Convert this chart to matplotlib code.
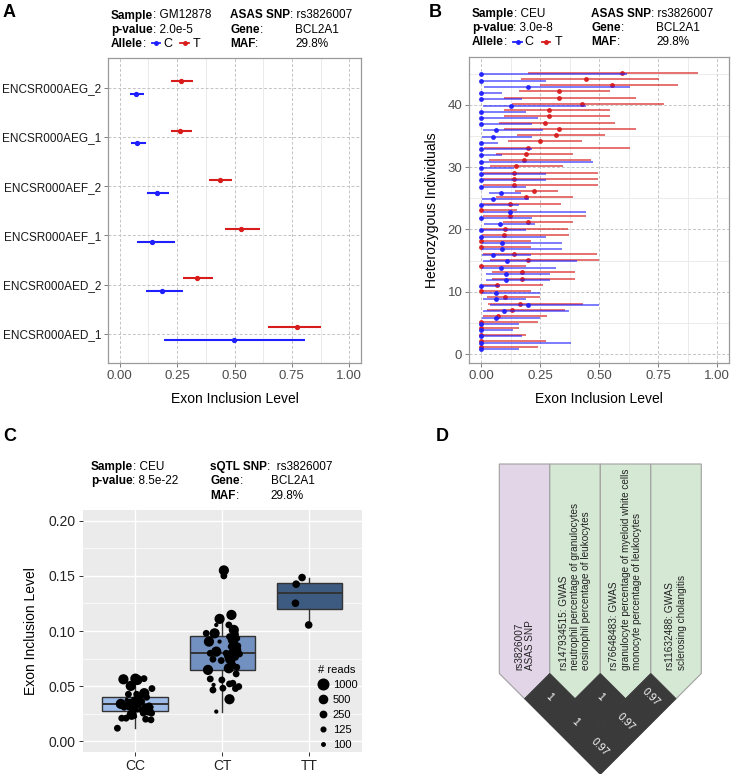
import matplotlib
matplotlib.use('Agg')
import matplotlib.pyplot as plt
import numpy as np
from matplotlib.lines import Line2D
from matplotlib.patches import Polygon
from matplotlib.ticker import MultipleLocator, FixedLocator

plt.rcParams['font.family'] = ['Liberation Sans', 'DejaVu Sans']

# ---------------- data ----------------
# Panel A
a_samples = ['ENCSR000AED_1', 'ENCSR000AED_2', 'ENCSR000AEF_1',
             'ENCSR000AEF_2', 'ENCSR000AEG_1', 'ENCSR000AEG_2']
a_c_mid = [0.499, 0.186, 0.142, 0.163, 0.076, 0.070]
a_c_lo = [0.191, 0.116, 0.073, 0.119, 0.051, 0.043]
a_c_hi = [0.807, 0.276, 0.241, 0.216, 0.116, 0.107]
a_t_mid = [0.774, 0.338, 0.530, 0.436, 0.264, 0.265]
a_t_lo = [0.648, 0.274, 0.457, 0.387, 0.223, 0.225]
a_t_hi = [0.876, 0.406, 0.609, 0.490, 0.316, 0.319]

# Panel B (individuals 1..45)
b_t_lo = [0, 0, 0, 0, 0, 0.007, 0.024, 0.031, 0.027, 0, 0.007, 0.048, 0.048, 0, 0.038,
          0.007, 0, 0, 0.003, 0.007, 0.091, 0.01, 0, 0.01, 0.063, 0.143, 0.01, 0.01, 0.01, 0.038,
          0.035, 0.063, 0.014, 0.115, 0.151, 0.097, 0.077, 0.099, 0.099, 0.129, 0.097, 0.16, 0.248, 0.167, 0.199]
b_t_hi = [0.241, 0.276, 0.192, 0.161, 0.241, 0.279, 0.357, 0.433, 0.248, 0.213, 0.262, 0.396, 0.396, 0.192, 0.5,
          0.493, 0.213, 0.213, 0.371, 0.37, 0.389, 0.445, 0.15, 0.339, 0.389, 0.325, 0.496, 0.496, 0.496, 0.346,
          0.465, 0.389, 0.63, 0.427, 0.525, 0.654, 0.566, 0.546, 0.546, 0.773, 0.654, 0.546, 0.836, 0.752, 0.92]
b_t_mid = [0, 0, 0, 0, 0, 0.07, 0.132, 0.164, 0.1, 0, 0.066, 0.175, 0.175, 0, 0.199,
           0.14, 0, 0, 0.098, 0.1, 0.199, 0.122, 0, 0.122, 0.189, 0.224, 0.14, 0.14, 0.14, 0.147,
           0.181, 0.189, 0.199, 0.249, 0.317, 0.332, 0.272, 0.286, 0.286, 0.426, 0.332, 0.332, 0.556, 0.444, 0.598]
b_c_lo = [0, 0, 0, 0, 0, 0.003, 0.007, 0.038, 0.01, 0.003, 0, 0.02, 0.02, 0.003, 0.007,
          0.003, 0.003, 0.003, 0, 0, 0.014, 0, 0.01, 0, 0.003, 0.035, 0, 0, 0, 0,
          0, 0, 0, 0, 0.003, 0.006, 0, 0, 0, 0.01, 0, 0, 0.014, 0, 0]
b_c_hi = [0.161, 0.381, 0.175, 0.136, 0.161, 0.248, 0.371, 0.5, 0.192, 0.248, 0.08, 0.29, 0.29, 0.318, 0.405,
          0.213, 0.343, 0.343, 0.273, 0.192, 0.227, 0.214, 0.444, 0.161, 0.203, 0.171, 0.192, 0.273, 0.273, 0.139,
          0.475, 0.088, 0.214, 0.071, 0.214, 0.263, 0.214, 0.239, 0.192, 0.445, 0.175, 0.088, 0.63, 0.273, 0.616]
b_c_mid = [0, 0, 0, 0, 0, 0.062, 0.098, 0.199, 0.063, 0.062, 0, 0.104, 0.104, 0.083, 0.11,
           0.052, 0.09, 0.09, 0, 0, 0.08, 0, 0.122, 0, 0.049, 0.083, 0, 0, 0, 0,
           0, 0, 0, 0, 0.052, 0.064, 0, 0, 0, 0.125, 0, 0, 0.199, 0, 0]

# Panel C
c_genotypes = ['CC', 'CT', 'TT']
c_q1 = [0.0275, 0.0644, 0.1200]
c_med = [0.0340, 0.0798, 0.1343]
c_q3 = [0.0405, 0.0958, 0.1439]
c_whislo = [0.0118, 0.0269, 0.1055]
c_whishi = [0.0575, 0.1146, 0.1485]
cc_jit = [-0.133, 0.004, 0.027, 0.103, -0.049, 0.194, -0.076, 0.019, 0.106, 0.133, 0.057, -0.008,
          -0.095, -0.163, -0.057, 0.027, 0.076, 0.163, -0.125, -0.019, 0.114, 0.190, 0.152, -0.038,
          0.027, 0.095, 0.190, -0.152, -0.103, -0.038, 0.122, 0.183, -0.202, -0.076, 0.076, 0.000]
cc_val = [0.0562, 0.0568, 0.0556, 0.0568, 0.0502, 0.0478, 0.0426, 0.0426, 0.0436, 0.0399, 0.0405, 0.0375,
          0.0375, 0.0339, 0.0339, 0.0345, 0.0360, 0.0321, 0.0309, 0.0309, 0.0309, 0.0309, 0.0279, 0.0261,
          0.0279, 0.0255, 0.0255, 0.0209, 0.0209, 0.0240, 0.0200, 0.0194, 0.0118, 0.0300, 0.0285, 0.0224]
cc_reads = [900, 900, 900, 300, 900, 300, 300, 300, 900, 300, 300, 300,
            110, 900, 900, 900, 300, 300, 300, 900, 300, 110, 900, 300,
            110, 300, 300, 300, 300, 900, 300, 300, 300, 110, 300, 110]
ct_jit = [-0.030, 0.106, 0.076, -0.068, -0.183, -0.087, 0.133, 0.152, 0.167, 0.084,
          0.141, -0.152, -0.068, 0.046, 0.122, 0.198, -0.137, -0.106, -0.011, 0.091,
          0.152, 0.122, 0.167, -0.163, 0.076, 0.160, -0.137, -0.004, 0.122, 0.084,
          -0.099, 0.190, 0.152, -0.106, 0.008, 0.084, -0.068, 0.103, 0.141, 0.179,
          -0.030, 0.110, 0.061, 0.160, 0.122, 0.019, 0.019]
ct_val = [0.1110, 0.1146, 0.1055, 0.1055, 0.0979, 0.0979, 0.1010, 0.0971, 0.0934, 0.0949,
          0.0895, 0.0904, 0.0813, 0.0798, 0.0798, 0.0792, 0.0798, 0.0744, 0.0732, 0.0744,
          0.0762, 0.0692, 0.0671, 0.0647, 0.0662, 0.0611, 0.0565, 0.0556, 0.0526, 0.0520,
          0.0511, 0.0496, 0.0478, 0.0465, 0.0481, 0.0381, 0.0269, 0.0859, 0.0835, 0.0865,
          0.0904, 0.0723, 0.0768, 0.0829, 0.0919, 0.1550, 0.1500]
ct_reads = [900, 900, 300, 110, 300, 900, 900, 300, 300, 300,
            300, 900, 900, 300, 900, 300, 300, 300, 300, 900,
            300, 300, 300, 900, 900, 300, 300, 300, 300, 300,
            110, 300, 300, 300, 300, 900, 110, 300, 300, 300,
            110, 300, 300, 900, 900, 900, 300]
tt_jit = [-0.084, -0.152, -0.160, -0.008]
tt_val = [0.1485, 0.1425, 0.1252, 0.1055]
tt_reads = [400, 400, 400, 400]
legend_reads = [1000, 500, 250, 125, 100]

# Panel D
d_labels = ['rs3826007\nASAS SNP',
            'rs147934515: GWAS\nneutrophil percentage of granulocytes\neosinophil percentage of leukocytes',
            'rs76648483: GWAS\ngranulocyte percentage of myeloid white cells\nmonocyte percentage of leukocytes',
            'rs11632488: GWAS\nsclerosing cholangitis']
d_kinds = ['asas', 'gwas', 'gwas', 'gwas']
d_ld_pairs = [(0, 1), (1, 2), (2, 3), (0, 2), (1, 3), (0, 3)]
d_ld_vals = ['1', '1', '0.97', '1', '0.97', '0.97']

# ---------------- figure ----------------
W, H, DPI = 731, 774, 100
fig = plt.figure(figsize=(W / DPI, H / DPI), dpi=DPI)


def fx(x):
    return x / W


def fy(y):
    return 1 - y / H


def add_ax(l, t, r, b):
    return fig.add_axes([fx(l), fy(b), (r - l) / W, (b - t) / H])


BLUE = '#1f1fff'
RED = '#d81c1c'
HDR = 8.5


def hdr(ax, x, y, bold, rest):
    t = fig.text(fx(x), fy(y), bold, fontsize=HDR, fontweight='bold', va='baseline', ha='left')
    ax.annotate(rest, xy=(1, fy(y)), xycoords=(t, 'figure fraction'), va='baseline',
                ha='left', fontsize=HDR, annotation_clip=False)


def plain(x, y, s, size=HDR):
    fig.text(fx(x), fy(y), s, fontsize=size, va='baseline', ha='left')


def key(x0, x1, y, color):
    fig.add_artist(Line2D([fx(x0), fx(x1)], [fy(y), fy(y)], transform=fig.transFigure,
                          color=color, lw=1.3))
    fig.add_artist(Line2D([fx((x0 + x1) / 2)], [fy(y)], transform=fig.transFigure,
                          color=color, marker='o', ms=2.5, lw=0))


def style_ab(ax):
    ax.set_facecolor('white')
    for s in ax.spines.values():
        s.set_color('#9a9a9a')
        s.set_linewidth(0.9)
    ax.grid(True, which='major', color='#c4c4c4', linestyle=(0, (3, 2)), linewidth=0.7)
    ax.grid(True, which='minor', color='#e8e8e8', linestyle='-', linewidth=0.6)
    ax.set_axisbelow(True)
    ax.tick_params(which='major', length=3, color='#808080', labelcolor='#4d4d4d',
                   labelsize=9.5, width=0.7, pad=2)
    ax.tick_params(which='minor', length=0)
    ax.set_xlim(-0.05, 1.05)
    ax.xaxis.set_major_locator(FixedLocator([0, 0.25, 0.5, 0.75, 1.0]))
    ax.set_xticklabels(['0.00', '0.25', '0.50', '0.75', '1.00'])
    ax.xaxis.set_minor_locator(FixedLocator([0.125, 0.375, 0.625, 0.875]))
    ax.set_xlabel('Exon Inclusion Level', fontsize=10, labelpad=7)


# ---- Panel A ----
axA = add_ax(108.3, 58.3, 360.7, 363.3)
style_ab(axA)
ya = np.arange(1, len(a_samples) + 1)
dodge = 0.13
axA.hlines(ya + dodge, a_t_lo, a_t_hi, color=RED, lw=1.5)
axA.plot(a_t_mid, ya + dodge, 'o', color=RED, ms=2.8)
axA.hlines(ya - dodge, a_c_lo, a_c_hi, color=BLUE, lw=1.5)
axA.plot(a_c_mid, ya - dodge, 'o', color=BLUE, ms=2.8)
axA.set_ylim(0.4, len(a_samples) + 0.6)
axA.set_yticks(ya)
axA.set_yticklabels(a_samples)
axA.tick_params(axis='y', labelsize=8.5, labelcolor='#1a1a1a')

fig.text(fx(3), fy(12.5), 'A', fontsize=13, fontweight='bold', va='center', ha='left')
hdr(axA, 111, 18.5, 'Sample', ': GM12878')
hdr(axA, 111, 32.6, 'p-value', ': 2.0e-5')
hdr(axA, 111, 46.6, 'Allele', ':')
key(151.7, 160, 43.3, BLUE)
plain(163, 46.8, 'C', 9)
key(180, 189.3, 43.3, RED)
plain(192.7, 46.8, 'T', 9)
hdr(axA, 230, 18.5, 'ASAS SNP', ': rs3826007')
hdr(axA, 230, 32.6, 'Gene', ':')
plain(295, 32.6, 'BCL2A1')
hdr(axA, 230, 46.6, 'MAF', ':')
plain(295, 46.6, '29.8%')

# ---- Panel B ----
axB = add_ax(469.3, 57.3, 729, 363)
style_ab(axB)
yb = np.arange(1, len(b_t_mid) + 1)
axB.hlines(yb + dodge, b_t_lo, b_t_hi, color=RED, lw=1.1, alpha=0.8)
axB.plot(b_t_mid, yb + dodge, 'o', color=RED, ms=2.5, alpha=0.9)
axB.hlines(yb - dodge, b_c_lo, b_c_hi, color=BLUE, lw=1.1, alpha=0.75)
axB.plot(b_c_mid, yb - dodge, 'o', color=BLUE, ms=2.5, alpha=0.9)
axB.set_ylim(-1.4, 47.6)
axB.yaxis.set_major_locator(FixedLocator([0, 10, 20, 30, 40]))
axB.yaxis.set_minor_locator(FixedLocator([5, 15, 25, 35, 45]))
axB.tick_params(axis='y', labelsize=9.5)
axB.set_ylabel('Heterozygous Individuals', fontsize=10, labelpad=6)

fig.text(fx(429), fy(12.5), 'B', fontsize=13, fontweight='bold', va='center', ha='left')
hdr(axB, 471.7, 17.3, 'Sample', ': CEU')
hdr(axB, 471.7, 31, 'p-value', ': 3.0e-8')
hdr(axB, 471.7, 45, 'Allele', ':')
key(513.3, 521.7, 41.7, BLUE)
plain(524, 45.2, 'C', 9)
key(541.7, 550, 41.7, RED)
plain(554.3, 45.2, 'T', 9)
hdr(axB, 591, 17.3, 'ASAS SNP', ': rs3826007')
hdr(axB, 591, 31, 'Gene', ':')
plain(656, 31, 'BCL2A1')
hdr(axB, 591, 45, 'MAF', ':')
plain(656, 45, '29.8%')

# ---- Panel C ----
axC = add_ax(82.7, 510, 361.7, 751.7)
axC.set_facecolor('#ebebeb')
for s in axC.spines.values():
    s.set_visible(False)

box_colors = ['#9fbce9', '#7290c0', '#3d5a80']
stats = []
for i in range(3):
    stats.append(dict(q1=c_q1[i], med=c_med[i], q3=c_q3[i], whislo=c_whislo[i],
                      whishi=c_whishi[i], fliers=[]))
bp = axC.bxp(stats, positions=[1, 2, 3], widths=0.75, patch_artist=True,
             showfliers=False, showcaps=False, manage_ticks=False,
             boxprops=dict(edgecolor='#333333', linewidth=1.0),
             medianprops=dict(color='#333333', linewidth=1.4),
             whiskerprops=dict(color='#333333', linewidth=1.0))
for patch, c in zip(bp['boxes'], box_colors):
    patch.set_facecolor(c)


def read_diam_pt(r):
    r = np.asarray(r, dtype=float)
    d_px = 3.5 + 7.5 * np.sqrt(np.clip((r - 100) / 1000.0, 0, None))
    return d_px * 72.0 / DPI


for pos, jit, val, rd in [(1, cc_jit, cc_val, cc_reads), (2, ct_jit, ct_val, ct_reads),
                          (3, tt_jit, tt_val, tt_reads)]:
    xs = pos + np.asarray(jit)
    axC.scatter(xs, val, s=read_diam_pt(rd) ** 2, color='black', zorder=3, linewidths=0)

axC.set_xlim(0.4, 3.6)
axC.set_ylim(-0.0095, 0.2098)
axC.yaxis.set_major_locator(FixedLocator([0, 0.05, 0.10, 0.15, 0.20]))
axC.set_yticklabels(['0.00', '0.05', '0.10', '0.15', '0.20'])
axC.yaxis.set_minor_locator(FixedLocator([0.025, 0.075, 0.125, 0.175]))
axC.xaxis.set_major_locator(FixedLocator([1, 2, 3]))
axC.set_xticklabels(c_genotypes)
axC.grid(True, which='major', color='white', lw=1.0)
axC.grid(True, which='minor', axis='y', color='white', lw=0.5)
axC.set_axisbelow(True)
axC.tick_params(which='major', length=3, color='#333333', labelcolor='#222222',
                labelsize=10, width=0.7, pad=2)
axC.tick_params(which='minor', length=0)
axC.set_ylabel('Exon Inclusion Level', fontsize=10, labelpad=8)

handles = [Line2D([], [], marker='o', color='black', lw=0, markersize=float(read_diam_pt(r)))
           for r in legend_reads]
leg = axC.legend(handles, [str(r) for r in legend_reads], title='# reads', loc='lower right',
                 frameon=False, fontsize=8, title_fontsize=8, labelspacing=0.45,
                 handletextpad=0.3, handlelength=1.2, borderaxespad=0.0,
                 bbox_to_anchor=(1.0, -0.012))

fig.text(fx(3), fy(436), 'C', fontsize=13, fontweight='bold', va='center', ha='left')
hdr(axC, 90.7, 470, 'Sample', ': CEU')
hdr(axC, 90.7, 484.3, 'p-value', ': 8.5e-22')
hdr(axC, 210, 470, 'sQTL SNP', ':  rs3826007')
hdr(axC, 210, 484.3, 'Gene', ':')
plain(270.7, 484.3, 'BCL2A1')
hdr(axC, 210, 499, 'MAF', ':')
plain(270.7, 499, '29.8%')

# ---- Panel D ----
axD = fig.add_axes([0, 0, 1, 1], zorder=-1)
axD.set_xlim(0, W)
axD.set_ylim(H, 0)
axD.axis('off')
d_left, d_colw, d_top, d_shoulder = 499.3, 50.5, 464.0, 673.5
half = d_colw / 2
fills = {'asas': '#e2d5e8', 'gwas': '#d5e8d4'}
for k, (lab, kind) in enumerate(zip(d_labels, d_kinds)):
    x0 = d_left + k * d_colw
    x1 = x0 + d_colw
    xc = x0 + half
    poly = Polygon([(x0, d_top), (x1, d_top), (x1, d_shoulder), (xc, d_shoulder + half),
                    (x0, d_shoulder)], closed=True, facecolor=fills[kind],
                   edgecolor='#a0a0a0', lw=0.8)
    axD.add_patch(poly)
    axD.text(xc, d_shoulder - 3, lab, rotation=90, ha='center', va='bottom',
             multialignment='left', fontsize=7.2, color='#222222', linespacing=1.15)
for (i, j), v in zip(d_ld_pairs, d_ld_vals):
    cx = d_left + d_colw * (i + j + 1) / 2
    cy = d_shoulder + half * (j - i)
    dia = Polygon([(cx, cy - half), (cx + half, cy), (cx, cy + half), (cx - half, cy)],
                  closed=True, facecolor='#3a3a3a', edgecolor='#3a3a3a', lw=0.6)
    axD.add_patch(dia)
    axD.text(cx, cy - 2, v, rotation=-45, ha='center', va='center', fontsize=7.5,
             color='white', rotation_mode='anchor')
fig.text(fx(436), fy(436), 'D', fontsize=13, fontweight='bold', va='center', ha='left')

fig.savefig('out.png', dpi=DPI)
